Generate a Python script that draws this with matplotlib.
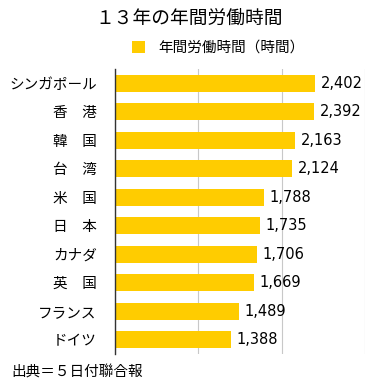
import matplotlib
matplotlib.use("Agg")
import matplotlib.pyplot as plt
from matplotlib.patches import Patch

plt.rcParams['font.family'] = ['Noto Sans CJK JP', 'DejaVu Sans']

# データ
countries = ['シンガポール', '香　港', '韓　国', '台　湾', '米　国',
             '日　本', 'カナダ', '英　国', 'フランス', 'ドイツ']
hours = [2402, 2392, 2163, 2124, 1788, 1735, 1706, 1669, 1489, 1388]
xticks = [0, 1000, 2000, 3000]

bar_color = '#FFCC00'

fig = plt.figure(figsize=(3.79, 3.88), dpi=100)
ax = fig.add_axes([0.303, 0.088, 0.660, 0.734])

y = list(range(len(countries)))[::-1]
ax.barh(y, hours, height=0.6, color=bar_color, zorder=2)

# 数値ラベル
for yi, v in zip(y, hours):
    ax.text(v + 70, yi, f'{v:,}', va='center', ha='left', fontsize=10.5,
            family='DejaVu Sans')

ax.set_xlim(0, 3000)
ax.set_ylim(-0.5, len(countries) - 0.5)
ax.set_xticks(xticks)
ax.set_xticklabels([])
ax.tick_params(axis='x', length=0)
ax.tick_params(axis='y', length=0, pad=13, labelsize=10.5)
ax.set_yticks(y)
ax.set_yticklabels(countries)
ax.grid(axis='x', color='#c8c8c8', linewidth=0.8, zorder=0)
for s in ['top', 'right', 'bottom']:
    ax.spines[s].set_visible(False)
ax.spines['left'].set_color('#333333')
ax.spines['left'].set_linewidth(1.0)

fig.text(0.5, 0.953, '１３年の年間労働時間', ha='center', va='center', fontsize=13.5)

handle = Patch(facecolor=bar_color, edgecolor='none')
fig.legend([handle], ['年間労働時間（時間）'], loc='center', bbox_to_anchor=(0.575, 0.877),
           frameon=False, fontsize=10.5, handlelength=0.9, handleheight=0.9,
           handletextpad=0.9)

fig.text(0.03, 0.04, '出典＝５日付聯合報', ha='left', va='center', fontsize=10.5)

fig.savefig('out.png', dpi=100)
